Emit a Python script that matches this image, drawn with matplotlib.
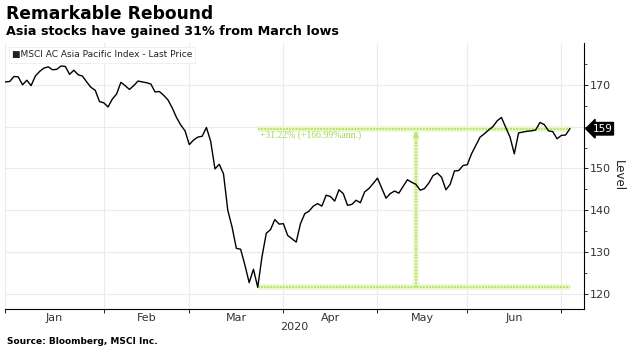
import numpy as np
import matplotlib
matplotlib.use("Agg")
import matplotlib.pyplot as plt

title = "Remarkable Rebound"
subtitle = "Asia stocks have gained 31% from March lows"
source = "Source: Bloomberg, MSCI Inc."
series_name = "MSCI AC Asia Pacific Index - Last Price"
gain_label = "+31.22% (+166.99%ann.)"

dates = [
    "2020-01-01", "2020-01-02", "2020-01-03", "2020-01-06", "2020-01-07", "2020-01-08", "2020-01-09", "2020-01-10",
    "2020-01-13", "2020-01-14", "2020-01-15", "2020-01-16", "2020-01-17", "2020-01-20", "2020-01-21", "2020-01-22",
    "2020-01-23", "2020-01-24", "2020-01-27", "2020-01-28", "2020-01-29", "2020-01-30", "2020-01-31",
    "2020-02-03", "2020-02-04", "2020-02-05", "2020-02-06", "2020-02-07", "2020-02-10", "2020-02-11", "2020-02-12",
    "2020-02-13", "2020-02-14", "2020-02-17", "2020-02-18", "2020-02-19", "2020-02-20", "2020-02-21", "2020-02-24",
    "2020-02-25", "2020-02-26", "2020-02-27", "2020-02-28",
    "2020-03-02", "2020-03-03", "2020-03-04", "2020-03-05", "2020-03-06", "2020-03-09", "2020-03-10", "2020-03-11",
    "2020-03-12", "2020-03-13", "2020-03-16", "2020-03-17", "2020-03-18", "2020-03-19", "2020-03-20", "2020-03-23",
    "2020-03-24", "2020-03-25", "2020-03-26", "2020-03-27", "2020-03-30", "2020-03-31",
    "2020-04-01", "2020-04-02", "2020-04-06", "2020-04-07", "2020-04-08", "2020-04-09", "2020-04-10",
    "2020-04-13", "2020-04-14", "2020-04-15", "2020-04-16", "2020-04-17", "2020-04-20", "2020-04-21", "2020-04-22",
    "2020-04-23", "2020-04-24", "2020-04-27", "2020-04-28", "2020-04-29", "2020-04-30",
    "2020-05-01", "2020-05-04", "2020-05-05", "2020-05-06", "2020-05-07", "2020-05-08", "2020-05-12",
    "2020-05-13", "2020-05-14", "2020-05-15", "2020-05-18", "2020-05-19", "2020-05-20", "2020-05-21", "2020-05-22",
    "2020-05-25", "2020-05-26", "2020-05-27", "2020-05-28", "2020-05-29",
    "2020-06-01", "2020-06-02", "2020-06-03", "2020-06-04", "2020-06-05", "2020-06-08", "2020-06-09", "2020-06-10",
    "2020-06-11", "2020-06-12", "2020-06-15", "2020-06-16", "2020-06-17", "2020-06-18", "2020-06-19", "2020-06-22",
    "2020-06-23", "2020-06-24", "2020-06-25", "2020-06-26", "2020-06-29", "2020-06-30",
    "2020-07-01", "2020-07-02", "2020-07-03",
]
prices = [
    170.7, 170.8, 172.0, 171.9, 170.0, 171.1, 169.8, 172.1,
    173.2, 174.0, 174.3, 173.6, 173.7, 174.5, 174.4, 172.5,
    173.5, 172.4, 172.1, 170.7, 169.4, 168.7, 166.0,
    165.7, 164.7, 166.6, 167.8, 170.6, 169.8, 168.9, 169.8,
    170.9, 170.7, 170.5, 170.2, 168.3, 168.4, 167.5, 166.4,
    164.5, 162.2, 160.4, 159.0,
    155.7, 156.8, 157.5, 157.7, 159.8, 156.5, 149.9, 151.0,
    148.7, 140.0, 136.0, 130.9, 130.7, 126.9, 122.7, 125.9,
    121.6, 128.9, 134.5, 135.4, 137.8, 136.7,
    136.8, 134.0, 132.4, 136.8, 139.2, 139.8, 141.0,
    141.6, 141.0, 143.6, 143.3, 142.2, 144.9, 144.0, 141.2,
    141.4, 142.4, 141.8, 144.4, 145.2, 146.4,
    147.7, 145.3, 142.9, 144.0, 144.6, 144.1, 147.3,
    146.7, 146.2, 144.8, 145.2, 146.5, 148.3, 148.9, 147.9,
    144.9, 146.2, 149.4, 149.5, 150.7,
    150.9, 153.5, 155.5, 157.5, 158.3, 159.2, 160.0, 161.4,
    162.2, 159.8, 157.5, 153.5, 158.5, 158.7, 158.9, 159.0,
    159.2, 161.0, 160.5, 159.0, 158.8, 157.1,
    157.9, 158.0, 159.5,
]
month_starts = ["2020-01-01", "2020-02-01", "2020-03-01", "2020-04-01", "2020-05-01", "2020-06-01", "2020-07-01"]
month_labels = ["Jan", "Feb", "Mar", "Apr", "May", "Jun"]
year_label = "2020"
y_ticks = [120, 130, 140, 150, 170]
arrow_date = "2020-05-14"

# weekday (trading-day style) axis like Bloomberg
origin = np.datetime64("2020-01-01")
x = np.array([np.busday_count(origin, np.datetime64(d)) for d in dates], dtype=float)
y = np.array(prices)
mx = np.array([np.busday_count(origin, np.datetime64(d)) for d in month_starts], dtype=float)
mid = (mx[:-1] + mx[1:]) / 2

fig = plt.figure(figsize=(6.28, 3.55), dpi=100)
ax = fig.add_axes([5 / 628, 1 - 309 / 355, (584 - 5) / 628, (309 - 43) / 355])

ax.set_xlim(-0.1, 135.3)
ax.set_ylim(116.4, 180)

grid_c = "#ebebeb"
for v in y_ticks + [160]:
    ax.axhline(v, color=grid_c, lw=0.8, zorder=0)
for v in mx:
    ax.axvline(v, color=grid_c, lw=0.8, zorder=0)

green = "#b9e36a"
imin = int(np.argmin(y))
low, last = y[imin], y[-1]
xa = float(np.busday_count(origin, np.datetime64(arrow_date)))
for lvl in (low, last):
    ax.plot([x[imin], x[-1]], [lvl, lvl], color="#eaf7cc", lw=4.0, zorder=1, solid_capstyle="butt")
    ax.plot([x[imin], x[-1]], [lvl, lvl], color=green, lw=1.4, ls=(0, (1, 0.6)), zorder=2)
ax.plot([xa, xa], [low, last], color="#eaf7cc", lw=4.0, zorder=1, solid_capstyle="butt")
ax.plot([xa, xa], [low, last - 1.2], color=green, lw=1.4, ls=(0, (1, 0.6)), zorder=2)
ax.annotate("", xy=(xa, last), xytext=(xa, last - 2.0),
            arrowprops=dict(arrowstyle="-|>", color=green, lw=1.2, mutation_scale=7), zorder=3)
ax.text(x[imin] + 0.5, last - 0.4, gain_label, color="#a5d64f", fontsize=7, va="top", ha="left",
        family="Liberation Serif", zorder=3)

ax.plot(x, y, color="black", lw=1.0, zorder=4)

# spines
for s in ("left", "top"):
    ax.spines[s].set_visible(False)
ax.spines["right"].set_linewidth(0.8)
ax.spines["bottom"].set_linewidth(0.8)

ax.yaxis.tick_right()
ax.set_yticks(y_ticks)
ax.set_yticks([125, 135, 145, 155, 160, 165, 175], minor=True)
ax.tick_params(axis="y", which="major", length=3, width=0.6, labelsize=8, labelcolor="#333333", pad=1)
ax.tick_params(axis="y", which="minor", length=2, width=0.5)
ax.yaxis.set_label_position("right")
ax.set_ylabel("Level", rotation=270, fontsize=8.5, labelpad=10, color="#222222")

ax.set_xticks(mx)
ax.set_xticklabels([])
ax.set_xticks(mid, minor=True)
ax.set_xticklabels(month_labels, minor=True)
ax.tick_params(axis="x", which="major", length=3, width=0.6)
ax.tick_params(axis="x", which="minor", length=0, labelsize=8, labelcolor="#333333", pad=3)
fig.text(294 / 628, 1 - 327 / 355, year_label, ha="center", va="center", fontsize=8, color="#333333")

# last price badge
ax.annotate(f"{int(last)}", xy=(1.0, last), xycoords=("axes fraction", "data"),
            xytext=(6, 0), textcoords="offset points", ha="left", va="center",
            fontsize=7.5, color="white",
            bbox=dict(boxstyle="larrow,pad=0.12", fc="black", ec="black"), annotation_clip=False)

# legend box
ax.text(0.012, 0.955, "\u25A0" + series_name, transform=ax.transAxes, fontsize=6.5,
        ha="left", va="center", color="#222222",
        bbox=dict(boxstyle="square,pad=0.35", fc="white", ec="#eeeeee", lw=0.6), zorder=5)

fig.text(6 / 628, 1 - 14 / 355, title, fontsize=12.3, fontweight="bold", va="center", ha="left")
fig.text(6 / 628, 1 - 32 / 355, subtitle, fontsize=9.2, fontweight="bold", va="center", ha="left")
fig.text(7 / 628, 1 - 342 / 355, source, fontsize=6.5, fontweight="bold", va="center", ha="left")

fig.savefig("out.png", dpi=100)
